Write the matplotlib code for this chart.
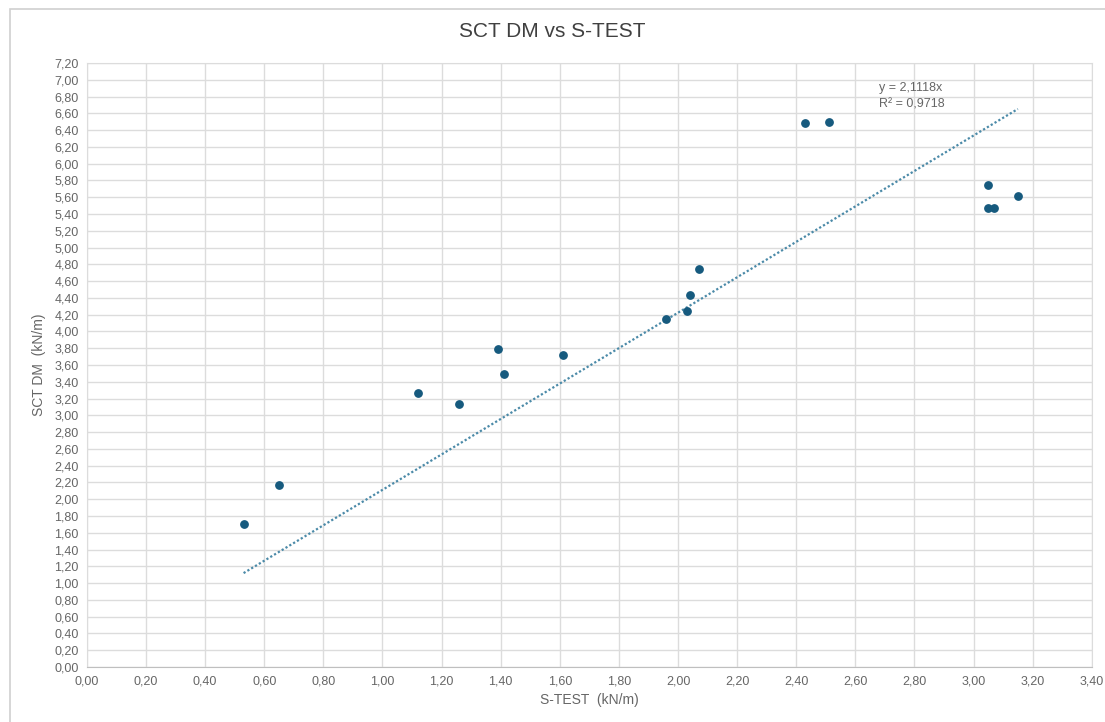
import matplotlib.pyplot as plt
import matplotlib.ticker as mticker
import numpy as np

plt.rcParams['font.family'] = ['Liberation Sans', 'DejaVu Sans']

# Data
s_test = [0.53, 0.65, 1.12, 1.26, 1.39, 1.41, 1.61, 1.96, 2.03, 2.04, 2.07,
          2.43, 2.51, 3.05, 3.05, 3.07, 3.15]
sct_dm = [1.71, 2.17, 3.27, 3.13, 3.79, 3.49, 3.72, 4.15, 4.24, 4.43, 4.74,
          6.49, 6.50, 5.74, 5.47, 5.47, 5.61]
trend_label = "y = 2,1118x\nR² = 0,9718"

x = np.array(s_test)
y = np.array(sct_dm)
slope = 2.1118  # linear trendline through the origin, as shown on chart

fig = plt.figure(figsize=(11.05, 7.22), dpi=100)
ax = fig.add_axes([0.0787, 0.0762, 0.9093, 0.8365])

# outer chart frame
fig.patches.append(plt.Rectangle((0.009, -0.01), 1.0, 0.997, transform=fig.transFigure,
                                 fill=False, edgecolor='#d0d0d0', linewidth=1.2))

ax.scatter(x, y, s=28, color='#165a7e', zorder=3)

xt = np.array([x.min(), x.max()])
ax.plot(xt, slope * xt, linestyle=(0, (1, 1)), color='#4b8aa8', linewidth=1.6, zorder=2)

ax.text(2.68, 6.97, trend_label, fontsize=9, color='#666666', va='top', ha='left',
        linespacing=1.5)

ax.set_xlim(0, 3.4)
ax.set_ylim(0, 7.2)
ax.xaxis.set_major_locator(mticker.MultipleLocator(0.2))
ax.yaxis.set_major_locator(mticker.MultipleLocator(0.2))
fmt = mticker.FuncFormatter(lambda v, p: f"{v:.2f}".replace('.', ','))
ax.xaxis.set_major_formatter(fmt)
ax.yaxis.set_major_formatter(fmt)

ax.grid(True, color='#dcdcdc', linewidth=1)
ax.set_axisbelow(True)
for side in ['top', 'right', 'left']:
    ax.spines[side].set_color('#dcdcdc')
ax.spines['bottom'].set_color('#bfbfbf')
ax.tick_params(length=0, labelsize=9, colors='#666666', pad=6)

ax.set_xlabel('S-TEST  (kN/m)', fontsize=10, color='#666666', labelpad=4)
ax.set_ylabel('SCT DM  (kN/m)', fontsize=10, color='#666666', labelpad=6)
fig.suptitle('SCT DM vs S-TEST', fontsize=15, color='#404040', y=0.97)

fig.savefig('out.png', dpi=100)
